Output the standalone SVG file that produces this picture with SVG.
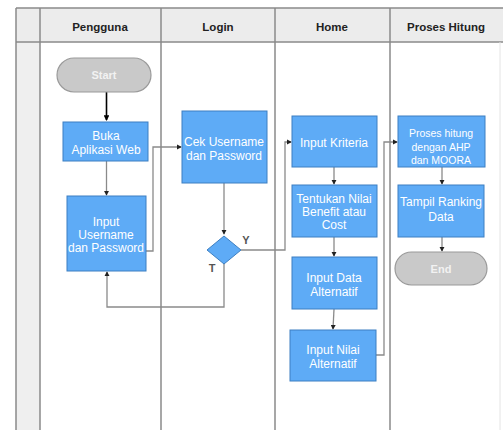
<svg xmlns="http://www.w3.org/2000/svg" width="503" height="430" viewBox="0 0 503 430">
<defs>
<style>
.lane{stroke:#8a8a8a;stroke-width:1.5;fill:none}
.hdr{font-family:"Liberation Sans",Arial,sans-serif;font-weight:bold;font-size:11.5px;fill:#222;text-anchor:middle}
.box{fill:#5eabf6;stroke:#3d7fc2;stroke-width:1}
.pill{fill:#c9c9c9;stroke:#9a9a9a;stroke-width:1.2}
.t{font-family:"Liberation Sans",Arial,sans-serif;font-size:12px;fill:#fff;text-anchor:middle}
.ts{font-family:"Liberation Sans",Arial,sans-serif;font-size:10.5px;fill:#fff;text-anchor:middle}
.tp{font-family:"Liberation Sans",Arial,sans-serif;font-weight:bold;font-size:11px;fill:#f2f2f2;text-anchor:middle}
.c{stroke:#8a8a8a;stroke-width:1.3;fill:none}
.lbl{font-family:"Liberation Sans",Arial,sans-serif;font-weight:bold;font-size:11px;fill:#555;text-anchor:middle}
</style>
<marker id="a" viewBox="0 0 6 6" refX="5" refY="3" markerWidth="4" markerHeight="4" orient="auto"><path d="M0,0L6,3L0,6z" fill="#222"/></marker>
<marker id="ab" viewBox="0 0 6 6" refX="5" refY="3" markerWidth="3.5" markerHeight="3.5" orient="auto"><path d="M0,0L6,3L0,6z" fill="#000"/></marker>
</defs>
<rect x="0" y="0" width="503" height="430" fill="#fff"/>
<g id="lanes">
<rect x="16" y="8" width="487" height="34" fill="#ececec"/>
<rect x="16" y="42" width="24" height="388" fill="#efefef"/>
<path class="lane" d="M16,8H503M16,42H503M16,8V430M40,8V430M161,8V430M275,8V430M390,8V430"/>
<path d="M500,42V430" stroke="#e4e4e4" stroke-width="1"/>
<text class="hdr" x="100" y="31">Pengguna</text>
<text class="hdr" x="218" y="31">Login</text>
<text class="hdr" x="332" y="31">Home</text>
<text class="hdr" x="446" y="31">Proses Hitung</text>
</g>
<g id="connectors">
<path d="M106.5,92V120" stroke="#000" stroke-width="1.6" fill="none" marker-end="url(#ab)"/>
<path class="c" d="M106.5,161V195" marker-end="url(#a)"/>
<path class="c" d="M146,251H153V147H181" marker-end="url(#a)"/>
<path class="c" d="M224,183V234" marker-end="url(#a)"/>
<path class="c" d="M241,250H285V142H291" marker-end="url(#a)"/>
<path class="c" d="M224,264V307H107V272" marker-end="url(#a)"/>
<path class="c" d="M334,167V184" marker-end="url(#a)"/>
<path class="c" d="M334,237V256" marker-end="url(#a)"/>
<path class="c" d="M334,309L333,329" marker-end="url(#a)"/>
<path class="c" d="M376,355H384V142H397" marker-end="url(#a)"/>
<path class="c" d="M442,167V184" marker-end="url(#a)"/>
<path class="c" d="M442,237V251" marker-end="url(#a)"/>
<text class="lbl" x="246" y="244">Y</text>
<text class="lbl" x="212" y="272">T</text>
</g>
<g id="start"><rect class="pill" x="57" y="58" width="94" height="34" rx="17"/><text class="tp" x="104" y="79">Start</text></g>
<g id="buka"><rect class="box" x="63" y="122" width="85" height="39"/><text class="t" x="106" y="140">Buka</text><text class="t" x="106" y="154">Aplikasi Web</text></g>
<g id="inputuser"><rect class="box" x="67" y="196" width="79" height="75"/><text class="t" x="106" y="226">Input</text><text class="t" x="106" y="239">Username</text><text class="t" x="106" y="252">dan Password</text></g>
<g id="cek"><rect class="box" x="182" y="111" width="85" height="72"/><text class="t" x="224" y="146">Cek Username</text><text class="t" x="224" y="160">dan Password</text></g>
<g id="decision"><path class="box" d="M224,236L241,250L224,264L207,250z"/></g>
<g id="kriteria"><rect class="box" x="292" y="116" width="85" height="51"/><text class="t" x="334" y="147">Input Kriteria</text></g>
<g id="tentukan"><rect class="box" x="292" y="185" width="85" height="52"/><text class="t" x="334" y="203">Tentukan Nilai</text><text class="t" x="334" y="216">Benefit atau</text><text class="t" x="334" y="229">Cost</text></g>
<g id="inputdata"><rect class="box" x="292" y="257" width="85" height="52"/><text class="t" x="334" y="282">Input Data</text><text class="t" x="334" y="296">Alternatif</text></g>
<g id="inputnilai"><rect class="box" x="290" y="330" width="86" height="51"/><text class="t" x="333" y="354">Input Nilai</text><text class="t" x="333" y="368">Alternatif</text></g>
<g id="proses"><rect class="box" x="398" y="116" width="87" height="51"/><text class="ts" x="441" y="137">Proses hitung</text><text class="ts" x="441" y="151">dengan AHP</text><text class="ts" x="441" y="164">dan MOORA</text></g>
<g id="tampil"><rect class="box" x="398" y="185" width="86" height="52"/><text class="t" x="441" y="206">Tampil Ranking</text><text class="t" x="441" y="221">Data</text></g>
<g id="end"><rect class="pill" x="395" y="252" width="92" height="33" rx="16.5"/><text class="tp" x="441" y="273">End</text></g>
</svg>
